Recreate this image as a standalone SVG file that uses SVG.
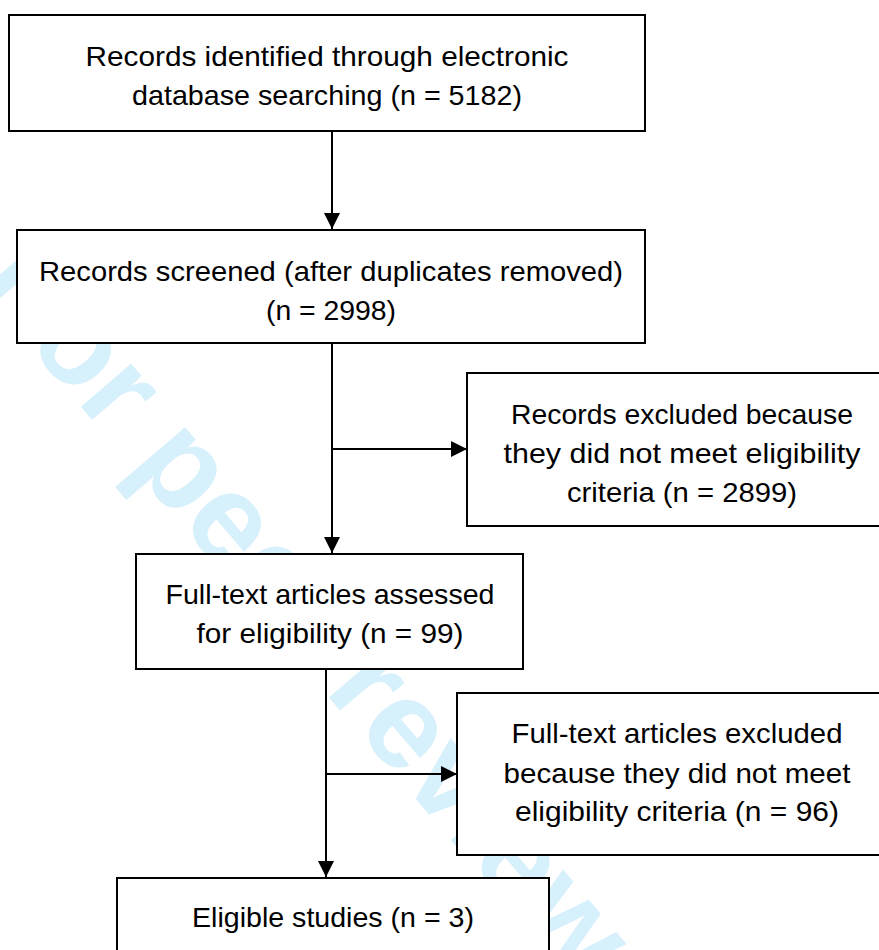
<svg xmlns="http://www.w3.org/2000/svg" width="879" height="950" viewBox="0 0 879 950">
<style>
.box{fill:#fff;stroke:#000;stroke-width:2}
.t{font-family:"Liberation Sans",Arial,sans-serif;font-size:28px;fill:#000;text-anchor:middle}
.ln{stroke:#000;stroke-width:2;fill:none}
.wm{font-family:"Liberation Sans",Arial,sans-serif;font-weight:bold;font-size:125px;fill:#d6f0fc}
</style>
<defs>
<marker id="ah" viewBox="0 0 16 16" refX="16" refY="8" markerWidth="16" markerHeight="16" markerUnits="userSpaceOnUse" orient="auto">
<path d="M0,0 L16,8 L0,16 Z" fill="#000"/>
</marker>
</defs>
<rect width="879" height="950" fill="#fff"/>
<text class="wm" transform="translate(-24,284) rotate(49.5)">For peer review</text>
<g id="connectors">
<line class="ln" x1="332" y1="131" x2="332" y2="229" marker-end="url(#ah)"/>
<line class="ln" x1="332" y1="343" x2="332" y2="553" marker-end="url(#ah)"/>
<line class="ln" x1="332" y1="449" x2="467" y2="449" marker-end="url(#ah)"/>
<line class="ln" x1="326" y1="669" x2="326" y2="877" marker-end="url(#ah)"/>
<line class="ln" x1="326" y1="774" x2="457" y2="774" marker-end="url(#ah)"/>
</g>
<g id="n1">
<rect class="box" x="9" y="15" width="636" height="116"/>
<text class="t" x="327" y="66" textLength="483" lengthAdjust="spacingAndGlyphs">Records identified through electronic</text>
<text class="t" x="327" y="105" textLength="390" lengthAdjust="spacingAndGlyphs">database searching (n = 5182)</text>
</g>
<g id="n2">
<rect class="box" x="17" y="230" width="628" height="113"/>
<text class="t" x="331" y="281" textLength="584" lengthAdjust="spacingAndGlyphs">Records screened (after duplicates removed)</text>
<text class="t" x="331" y="320" textLength="130" lengthAdjust="spacingAndGlyphs">(n = 2998)</text>
</g>
<g id="n3">
<rect class="box" x="467" y="373" width="430" height="153"/>
<text class="t" x="682" y="424" textLength="342" lengthAdjust="spacingAndGlyphs">Records excluded because</text>
<text class="t" x="682" y="463" textLength="357" lengthAdjust="spacingAndGlyphs">they did not meet eligibility</text>
<text class="t" x="682" y="502" textLength="230" lengthAdjust="spacingAndGlyphs">criteria (n = 2899)</text>
</g>
<g id="n4">
<rect class="box" x="136" y="554" width="387" height="115"/>
<text class="t" x="330" y="604" textLength="329" lengthAdjust="spacingAndGlyphs">Full-text articles assessed</text>
<text class="t" x="330" y="643" textLength="267" lengthAdjust="spacingAndGlyphs">for eligibility (n = 99)</text>
</g>
<g id="n5">
<rect class="box" x="457" y="693" width="440" height="162"/>
<text class="t" x="677" y="743" textLength="331" lengthAdjust="spacingAndGlyphs">Full-text articles excluded</text>
<text class="t" x="677" y="783" textLength="347" lengthAdjust="spacingAndGlyphs">because they did not meet</text>
<text class="t" x="677" y="821" textLength="324" lengthAdjust="spacingAndGlyphs">eligibility criteria (n = 96)</text>
</g>
<g id="n6">
<rect class="box" x="117" y="878" width="432" height="90"/>
<text class="t" x="333" y="927" textLength="282" lengthAdjust="spacingAndGlyphs">Eligible studies (n = 3)</text>
</g>
</svg>
